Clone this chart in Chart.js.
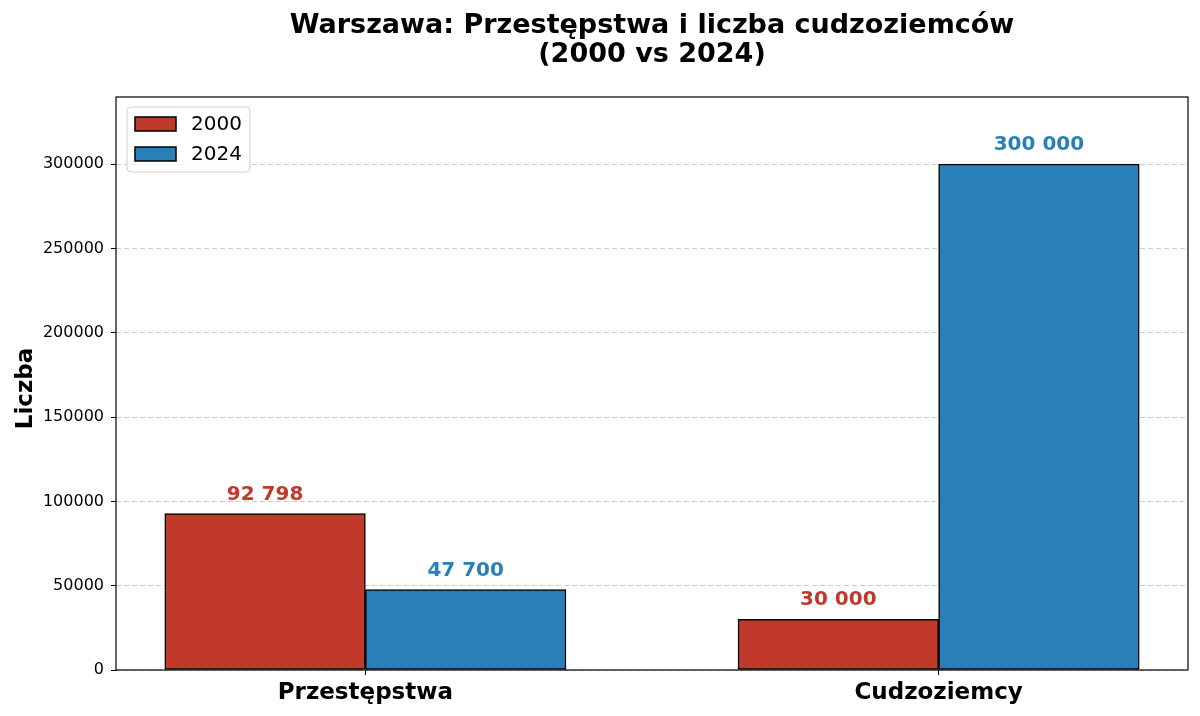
<!DOCTYPE html>
<html>
<head>
<meta charset="utf-8">
<script src="https://cdn.jsdelivr.net/npm/chart.js@4.4.1/dist/chart.umd.min.js"></script>
<style>
  html, body { margin: 0; padding: 0; background: #fff; }
  #wrap { width: 1200px; height: 716px; }
</style>
</head>
<body>
<div id="wrap"><canvas id="c" width="1200" height="716"></canvas></div>
<script>
const categories = ['Przestępstwa', 'Cudzoziemcy'];
const seriesNames = ['2000', '2024'];
const values2000 = [92798, 30000];
const values2024 = [47700, 300000];
const yTicks = [0, 50000, 100000, 150000, 200000, 250000, 300000];
const titleLines = ['Warszawa: Przestępstwa i liczba cudzoziemców', '(2000 vs 2024)'];
const yTitle = 'Liczba';

const colors = ['#c0392b', '#2980b9'];
const FONT = "'DejaVu Sans', sans-serif";

function fmt(v) {
  return String(v).replace(/\B(?=(\d{3})+(?!\d))/g, ' ');
}

const overlay = {
  id: 'overlay',
  afterDatasetsDraw(chart) {
    const ctx = chart.ctx;
    const ca = chart.chartArea;
    // value labels
    ctx.save();
    ctx.font = "bold 20px " + FONT;
    ctx.textAlign = 'center';
    ctx.textBaseline = 'alphabetic';
    chart.data.datasets.forEach((ds, di) => {
      const meta = chart.getDatasetMeta(di);
      meta.data.forEach((bar, i) => {
        ctx.fillStyle = colors[di];
        ctx.fillText(fmt(ds.data[i].y), bar.x, bar.y - 14);
      });
    });
    ctx.restore();
    // frame
    ctx.save();
    ctx.strokeStyle = '#000';
    ctx.lineWidth = 1.2;
    ctx.strokeRect(ca.left, ca.top, ca.right - ca.left, ca.bottom - ca.top);
    ctx.restore();
    // title (centred over the plot area)
    ctx.save();
    ctx.fillStyle = '#000';
    ctx.font = "bold 27px " + FONT;
    ctx.textAlign = 'center';
    ctx.textBaseline = 'alphabetic';
    const cx = (ca.left + ca.right) / 2;
    titleLines.forEach((t, i) => ctx.fillText(t, cx, 33 + i * 29));
    ctx.restore();
    // y axis title
    ctx.save();
    ctx.fillStyle = '#000';
    ctx.font = "bold 23px " + FONT;
    ctx.textAlign = 'center';
    ctx.textBaseline = 'alphabetic';
    ctx.translate(32, (ca.top + ca.bottom) / 2 + 5);
    ctx.rotate(-Math.PI / 2);
    ctx.fillText(yTitle, 0, 0);
    ctx.restore();
    // legend
    ctx.save();
    const lx = ca.left + 11, ly = ca.top + 10, lw = 123, lh = 65, r = 4;
    ctx.beginPath();
    ctx.moveTo(lx + r, ly);
    ctx.arcTo(lx + lw, ly, lx + lw, ly + lh, r);
    ctx.arcTo(lx + lw, ly + lh, lx, ly + lh, r);
    ctx.arcTo(lx, ly + lh, lx, ly, r);
    ctx.arcTo(lx, ly, lx + lw, ly, r);
    ctx.closePath();
    ctx.fillStyle = 'rgba(255,255,255,0.8)';
    ctx.fill();
    ctx.strokeStyle = '#d0d0d0';
    ctx.lineWidth = 1;
    ctx.stroke();
    ctx.font = "20px " + FONT;
    ctx.textBaseline = 'middle';
    ctx.textAlign = 'left';
    seriesNames.forEach((name, i) => {
      const py = ly + 10 + i * 30;
      ctx.fillStyle = colors[i];
      ctx.fillRect(lx + 8, py, 41, 14);
      ctx.strokeStyle = '#000';
      ctx.lineWidth = 1.5;
      ctx.strokeRect(lx + 8, py, 41, 14);
      ctx.fillStyle = '#000';
      ctx.fillText(name, lx + 64, py + 8);
    });
    ctx.restore();
  }
};

const ctx = document.getElementById('c').getContext('2d');
new Chart(ctx, {
  type: 'bar',
  data: {
    datasets: [
      { label: seriesNames[0], data: values2000.map((v, i) => ({ x: i, y: v })), backgroundColor: colors[0] },
      { label: seriesNames[1], data: values2024.map((v, i) => ({ x: i, y: v })), backgroundColor: colors[1] }
    ]
  },
  options: {
    responsive: false,
    animation: false,
    devicePixelRatio: 1,
    layout: { padding: { left: 0, right: 12, top: 97, bottom: 0 } },
    datasets: {
      bar: {
        borderColor: '#000',
        borderWidth: 1.5,
        borderSkipped: false,
        barThickness: 200.6,
        grouped: true
      }
    },
    plugins: {
      legend: { display: false },
      tooltip: { enabled: false },
      title: { display: false }
    },
    scales: {
      x: {
        type: 'linear',
        offset: false,
        min: -0.435,
        max: 1.435,
        afterBuildTicks: (s) => { s.ticks = categories.map((c, i) => ({ value: i })); },
        afterFit: (s) => { s.height = 46; },
        ticks: {
          autoSkip: false,
          maxRotation: 0,
          padding: 4,
          color: '#000',
          font: { family: FONT, size: 23, weight: 'bold' },
          callback: (v) => categories[v]
        },
        grid: { offset: false, drawOnChartArea: false, drawTicks: true, tickLength: 5, tickColor: '#000', tickWidth: 1 },
        border: { display: false }
      },
      y: {
        type: 'linear',
        min: 0,
        max: 339800,
        afterBuildTicks: (s) => { s.ticks = yTicks.map(v => ({ value: v })); },
        afterFit: (s) => { s.width = 116; },
        ticks: {
          padding: 7,
          color: '#000',
          font: { family: FONT, size: 16 },
          callback: (v) => String(v)
        },
        grid: {
          color: 'rgba(170,170,170,0.6)',
          lineWidth: 1,
          tickLength: 5,
          tickColor: '#000',
          tickWidth: 1,
          tickBorderDash: []
        },
        border: { display: false, dash: [5, 3] }
      }
    }
  },
  plugins: [overlay]
});
</script>
</body>
</html>
